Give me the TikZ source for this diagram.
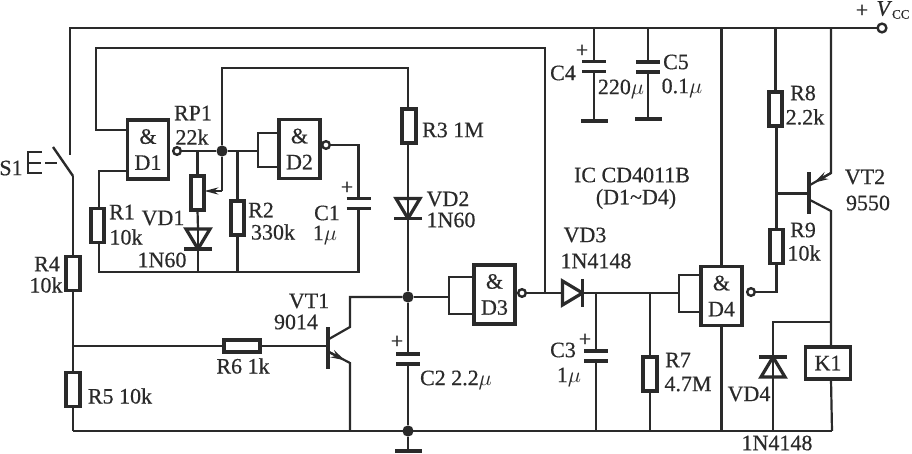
\documentclass[tikz,border=0pt]{standalone}
\usepackage{fontspec}
\setmainfont[FakeBold=0.5]{Liberation Serif}
\usetikzlibrary{calc,arrows.meta}
\definecolor{tinte}{RGB}{42,42,42}
\tikzset{
    wire/.style={line width=1.1pt},
    comp/.style={line width=1.9pt},
    txt/.style={inner sep=0pt, font=\fontsize{11}{13}\selectfont},
    res/.style={draw, comp, outer sep=0pt, inner sep=0pt, minimum width=6.8pt, minimum height=17pt},
    hres/.style={res, minimum width=18pt, minimum height=6pt},
    gate/.style={draw, comp, outer sep=0pt, inner sep=0pt, minimum width=20.5pt, minimum height=29.5pt, align=center, font=\fontsize{11}{13}\selectfont},
    bub/.style={circle, draw, line width=1.2pt, fill=white, outer sep=0pt, inner sep=0pt, minimum size=3.8pt},
    dot/.style={circle, fill, outer sep=0pt, inner sep=0pt, minimum size=5.6pt},
    bar/.style={fill, outer sep=0pt, inner sep=0pt, minimum width=13.5pt, minimum height=1.6pt},
    vbar/.style={fill, outer sep=0pt, inner sep=0pt, minimum width=1.8pt, minimum height=21pt},
    diode/.pic={
        \draw[line width=1.6pt, line join=miter] (-10,-12) -- (-10,12) -- (10,0) -- cycle;
        \draw[line width=1.8pt] (10,-14) -- (10,14);
        \coordinate (-a) at (-10,0);
        \coordinate (-k) at (10,0);
    },
    capac/.pic={
        \draw[line width=1.8pt] (-12,-5) -- (12,-5);
        \draw[line width=1.8pt] (-12,5) -- (12,5);
        \coordinate (-t) at (0,-5);
        \coordinate (-b) at (0,5);
    },
}

\begin{document}
\begin{tikzpicture}[tinte, x=0.5pt, y=-0.5pt]
    \useasboundingbox (0,0) rectangle (912,454);

    \coordinate (TL) at (70,28);
    \coordinate (BL) at (73,431);
    \coordinate (BR) at (832,431);
    \coordinate (LowL) at (99,272);
    \coordinate (S1t) at (70,155);
    \coordinate (S1a) at (53,147);
    \coordinate (S1b) at (73,176);
    \node[bub, minimum size=4.4pt] (Vcc) at (882,28) {};

    % gates
    \node[gate] (D1) at (148,149.5) {\&\\D1};
    \node[gate] (D2) at (299.5,149) {\&\\D2};
    \node[gate] (D3) at (494.5,294.5) {\&\\D3};
    \node[gate] (D4) at (721.5,296) {\&\\D4};
    \node[bub] (b1) at (177,151) {};
    \node[bub] (b2) at (326,145) {};
    \node[bub] (b3) at (522,293) {};
    \node[bub] (b4) at (751,292) {};

    % resistors
    \node[res] (R1) at (97.5,225.5) {};
    \node[res] (RP1) at (197.5,193) {};
    \node[res] (R2) at (237.5,218) {};
    \node[res] (R3) at (409,126) {};
    \node[res] (R4) at (73,273.5) {};
    \node[res] (R5) at (73,389.5) {};
    \node[hres] (R6) at (242,346) {};
    \node[res] (R7) at (650,374) {};
    \node[res] (R8) at (775.5,109) {};
    \node[res] (R9) at (776.5,246.5) {};
    \node[draw, comp, outer sep=0pt, inner sep=0pt, minimum width=22.5pt, minimum height=16pt, font=\fontsize{11}{13}\selectfont] (K1) at (828,363) {K1};

    % diodes and capacitors
    \pic[rotate=-90] (VD1) at (198,239) {diode};
    \pic[rotate=-90] (VD2) at (408,208.5) {diode};
    \pic (VD3) at (572.5,293) {diode};
    \pic[rotate=90] (VD4) at (773,367) {diode};
    \pic (C1) at (358.5,203.5) {capac};
    \pic (C2) at (408,359) {capac};
    \pic (C3) at (596,356) {capac};
    \pic (C4) at (594,66.5) {capac};
    \pic (C5) at (648,67) {capac};
    \node[bar] (C4g) at (594,121) {};
    \node[bar] (C5g) at (648,119) {};
    \node[bar] (Gnd) at (408,451) {};

    \node[dot] (J1) at (222,151) {};
    \node[dot] (J2) at (408,297) {};
    \node[dot] (J3) at (408,431) {};

    % transistors
    \node[vbar] (VT1b) at (328,348.5) {};
    \node[vbar] (VT2b) at (809,193.5) {};
    \coordinate (VT1c) at (350,327);
    \coordinate (VT1e) at (350,363);
    \coordinate (VT2e) at (831,173);
    \coordinate (VT2c) at (831,211);
    \coordinate (VT1ci) at (329,339);
    \coordinate (VT1ei) at (329,352);
    \coordinate (VT2ei) at (810,185);
    \coordinate (VT2ci) at (810,200);

    % rails
    \draw[wire] (S1t) -- (TL) -- (Vcc);
    \draw[wire] (BL) -- (BR);
    \draw[wire] (S1b) -- (R4.north);
    \draw[wire, line width=1.2pt] (S1a) -- (S1b);
    \draw[comp, line width=1.4pt] (42,152) -- (28,152) -- (28,173) -- (42,173);
    \draw[wire, line width=1.2pt] (28,163) -- (41,163);
    \draw[wire, line width=1.2pt] (45,163) -- (57,163);
    \draw[wire] (R4.south) -- (R5.north);
    \draw[wire] (R5.south) -- (BL);
    \draw[wire] (R6.west -| BL) -- (R6.west);
    \draw[wire] (R6.east) -- (VT1b.west |- R6.east);

    % first gate pair
    \coordinate (FbL) at (96,48);
    \coordinate (FbR) at (545,48);
    \coordinate (Fb) at (545,293);
    \coordinate (D1i) at (96,130);
    \coordinate (D1j) at (99,171);
    \draw[wire] (Fb) -- (FbR) -- (FbL) -- (D1i) -- (D1i -| D1.west);
    \draw[wire] (D1j -| D1.west) -- (D1j) -- (R1.north -| D1j);
    \draw[wire] (R1.south -| LowL) -- (LowL) -- (LowL -| C1-b) -- (C1-b);
    \draw[wire] (b1) -- (J1);
    \coordinate (D2i) at (258,133);
    \coordinate (D2j) at (258,167);
    \draw[wire] (J1) -- (J1 -| D2i);
    \draw[wire] (D2i -| D2.west) -- (D2i) -- (D2j) -- (D2j -| D2.west);
    \draw[wire] (b2) -| (C1-t);
    \draw[wire] (RP1.north |- J1) -- (RP1.north);
    \draw[wire] (RP1.south) -- (VD1-a);
    \draw[wire] (VD1-a) -- (VD1-k) -- (VD1-k |- LowL);
    \draw[wire] (R2.north |- J1) -- (R2.north);
    \draw[wire] (R2.south) -- (R2.south |- LowL);
    \coordinate (RPs) at (222,191);
    \draw[wire] (J1) -- (RPs);
    \draw[wire, -{Stealth[length=7pt, width=3.5pt]}] (RPs) -- (RP1.east |- RPs);

    % timing branch
    \coordinate (R3t) at (408,68);
    \draw[wire] (J1) -- (J1 |- R3t) -- (R3t) -- (R3.north -| R3t);
    \draw[wire] (R3.south -| R3t) -- (VD2-a) -- (VD2-k) -- (J2);
    \draw[wire] (J2) -- (C2-t);
    \draw[wire] (C2-b) -- (J3) -- (Gnd);
    \draw[wire] (VT1ci) -- (VT1c) |- (J2);
    \draw[wire] (VT1ei) -- (VT1e) -- (VT1e |- BL);
    \draw[wire, -{Stealth[length=7pt, width=4pt]}] (VT1ei) -- ($(VT1ei)!0.75!(VT1e)$);

    % second gate pair
    \coordinate (D3i) at (449,277);
    \coordinate (D3j) at (449,314);
    \draw[wire] (J2) -- (J2 -| D3i);
    \draw[wire] (D3i -| D3.west) -- (D3i) -- (D3j) -- (D3j -| D3.west);
    \draw[wire] (b3) -- (VD3-a);
    \coordinate (D4i) at (679,275);
    \coordinate (D4j) at (679,312);
    \draw[wire] (VD3-k) -- (VD3-k -| D4i);
    \draw[wire] (D4i -| D4.west) -- (D4i) -- (D4j) -- (D4j -| D4.west);
    \draw[wire] (C3-t) -- (C3-t |- VD3-k);
    \draw[wire] (C3-b) -- (C3-b |- BL);
    \draw[wire] (R7.north |- VD3-k) -- (R7.north);
    \draw[wire] (R7.south) -- (R7.south |- BL);
    \draw[wire] (D4.north) -- (D4.north |- TL);
    \draw[wire] (D4.south) -- (D4.south |- BL);
    \draw[wire] (C4-t) -- (C4-t |- TL);
    \draw[wire] (C4-b) -- (C4g);
    \draw[wire] (C5-t) -- (C5-t |- TL);
    \draw[wire] (C5-b) -- (C5g);

    % output stage
    \draw[wire] (b4) -| (R9.south);
    \draw[wire] (R9.north) -- (R8.south -| R9.north);
    \draw[wire] (R8.north) -- (R8.north |- TL);
    \draw[wire] (R9.north |- VT2b) -- (VT2b);
    \draw[wire] (VT2e |- TL) -- (VT2e) -- (VT2ei);
    \draw[wire, -{Stealth[length=7pt, width=4pt]}] (VT2e) -- ($(VT2e)!0.8!(VT2ei)$);
    \draw[wire] (VT2ci) -- (VT2c) -- (K1.north -| VT2c);
    \draw[wire] (K1.south -| VT2c) -- (BR);
    \coordinate (VD4t) at (773,322);
    \draw[wire] (VD4t -| VT2c) -- (VD4t) -- (VD4-k);
    \draw[wire] (VD4-k) -- (VD4-a) -- (VD4-a |- BL);

    % labels
    \node[txt] (tS1) at (11,168) {S1};
    \node[txt] (tRP1) at (193,113) {RP1};
    \node[txt] (tRP1v) at (192,137) {22k};
    \node[txt] (tR1) at (122,212) {R1};
    \node[txt] (tR1v) at (126,237) {10k};
    \node[txt] (tVD1) at (163,218) {VD1};
    \node[txt] (tVD1v) at (162,260) {1N60};
    \node[txt] (tR2) at (261,210) {R2};
    \node[txt] (tR2v) at (273,232) {330k};
    \node[txt] (tC1) at (327,213) {C1};
    \node[txt] (tC1v) at (325,235) {1$\mu$};
    \node[txt] (tC1p) at (347,188) {+};
    \node[txt] (tR4) at (47,264) {R4};
    \node[txt] (tR4v) at (46,285) {10k};
    \node[txt] (tR5) at (120,396) {R5 10k};
    \node[txt] (tR6) at (243,366) {R6 1k};
    \node[txt] (tR3) at (453,130) {R3 1M};
    \node[txt] (tVD2) at (448,199) {VD2};
    \node[txt] (tVD2v) at (451,220) {1N60};
    \node[txt] (tVT1) at (309,301) {VT1};
    \node[txt] (tVT1v) at (296,322) {9014};
    \node[txt] (tC2) at (456,380) {C2 2.2$\mu$};
    \node[txt] (tC2p) at (397,342) {+};
    \node[txt] (tVD3) at (585,235) {VD3};
    \node[txt] (tVD3v) at (596,261) {1N4148};
    \node[txt] (tC3) at (563,350) {C3};
    \node[txt] (tC3v) at (569,377) {1$\mu$};
    \node[txt] (tC3p) at (585,340) {+};
    \node[txt] (tC4) at (563,73) {C4};
    \node[txt] (tC4v) at (621,89) {220$\mu$};
    \node[txt] (tC4p) at (582,51) {+};
    \node[txt] (tC5) at (676,62) {C5};
    \node[txt] (tC5v) at (682,88) {0.1$\mu$};
    \node[txt] (tIC) at (632,175) {IC CD4011B};
    \node[txt] (tICv) at (636,199) {(D1\textasciitilde D4)};
    \node[txt] (tR7) at (678,360) {R7};
    \node[txt] (tR7v) at (688,384) {4.7M};
    \node[txt] (tVD4) at (749,394) {VD4};
    \node[txt] (tVD4v) at (777,443) {1N4148};
    \node[txt] (tR8) at (803,93) {R8};
    \node[txt] (tR8v) at (805,117) {2.2k};
    \node[txt] (tR9) at (803,230) {R9};
    \node[txt] (tR9v) at (804,253) {10k};
    \node[txt] (tVT2) at (865,177) {VT2};
    \node[txt] (tVT2v) at (868,203) {9550};
    \node[txt] (tVccp) at (862,11) {+};
    \node[txt] (tVcc) at (893,10) {\textit{V}\raisebox{-1.5pt}{\fontsize{6.5}{7}\selectfont CC}};
\end{tikzpicture}
\end{document}
